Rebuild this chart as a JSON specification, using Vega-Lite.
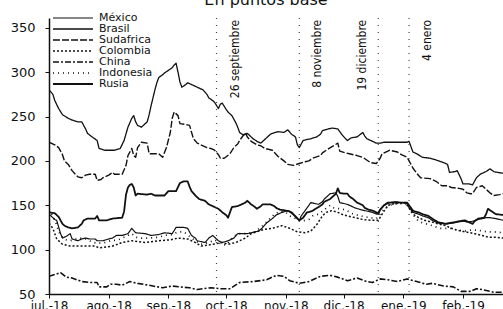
{
"$schema": "https://vega.github.io/schema/vega-lite/v6.json",
"width": 454, "height": 276,
"autosize": {"type": "none"},
"padding": {"left": 49, "top": 18, "right": 0, "bottom": 15},
"background": "white",
"title": {"text": "En puntos base", "font": "DejaVu Sans", "fontSize": 16, "fontWeight": "normal", "color": "#111", "anchor": "middle", "dx": -10},
"config": {"view": {"stroke": null}, "axis": {"grid": false, "title": null, "domainColor": "#111", "tickColor": "#111", "labelColor": "#111", "labelFont": "DejaVu Sans"}},
"datasets": {
"series": [
{"fecha":"2018-07-01","pais":"Brasil","valor":280},{"fecha":"2018-07-03","pais":"Brasil","valor":275},{"fecha":"2018-07-04","pais":"Brasil","valor":268},{"fecha":"2018-07-06","pais":"Brasil","valor":259},{"fecha":"2018-07-08","pais":"Brasil","valor":252},{"fecha":"2018-07-11","pais":"Brasil","valor":248},{"fecha":"2018-07-13","pais":"Brasil","valor":246},{"fecha":"2018-07-16","pais":"Brasil","valor":244},{"fecha":"2018-07-18","pais":"Brasil","valor":244},{"fecha":"2018-07-20","pais":"Brasil","valor":236},{"fecha":"2018-07-21","pais":"Brasil","valor":231},{"fecha":"2018-07-24","pais":"Brasil","valor":226},{"fecha":"2018-07-26","pais":"Brasil","valor":223},{"fecha":"2018-07-27","pais":"Brasil","valor":214},{"fecha":"2018-07-30","pais":"Brasil","valor":212},{"fecha":"2018-08-02","pais":"Brasil","valor":212},{"fecha":"2018-08-04","pais":"Brasil","valor":212},{"fecha":"2018-08-07","pais":"Brasil","valor":214},{"fecha":"2018-08-09","pais":"Brasil","valor":223},{"fecha":"2018-08-11","pais":"Brasil","valor":238},{"fecha":"2018-08-13","pais":"Brasil","valor":248},{"fecha":"2018-08-14","pais":"Brasil","valor":251},{"fecha":"2018-08-15","pais":"Brasil","valor":244},{"fecha":"2018-08-16","pais":"Brasil","valor":240},{"fecha":"2018-08-18","pais":"Brasil","valor":238},{"fecha":"2018-08-21","pais":"Brasil","valor":244},{"fecha":"2018-08-22","pais":"Brasil","valor":252},{"fecha":"2018-08-23","pais":"Brasil","valor":262},{"fecha":"2018-08-25","pais":"Brasil","valor":280},{"fecha":"2018-08-26","pais":"Brasil","valor":288},{"fecha":"2018-08-27","pais":"Brasil","valor":294},{"fecha":"2018-08-29","pais":"Brasil","valor":297},{"fecha":"2018-08-30","pais":"Brasil","valor":299},{"fecha":"2018-09-01","pais":"Brasil","valor":302},{"fecha":"2018-09-03","pais":"Brasil","valor":305},{"fecha":"2018-09-04","pais":"Brasil","valor":308},{"fecha":"2018-09-05","pais":"Brasil","valor":310},{"fecha":"2018-09-06","pais":"Brasil","valor":300},{"fecha":"2018-09-07","pais":"Brasil","valor":289},{"fecha":"2018-09-08","pais":"Brasil","valor":283},{"fecha":"2018-09-10","pais":"Brasil","valor":286},{"fecha":"2018-09-11","pais":"Brasil","valor":288},{"fecha":"2018-09-14","pais":"Brasil","valor":285},{"fecha":"2018-09-16","pais":"Brasil","valor":283},{"fecha":"2018-09-19","pais":"Brasil","valor":280},{"fecha":"2018-09-21","pais":"Brasil","valor":275},{"fecha":"2018-09-22","pais":"Brasil","valor":271},{"fecha":"2018-09-24","pais":"Brasil","valor":268},{"fecha":"2018-09-25","pais":"Brasil","valor":266},{"fecha":"2018-09-27","pais":"Brasil","valor":259},{"fecha":"2018-09-28","pais":"Brasil","valor":264},{"fecha":"2018-09-29","pais":"Brasil","valor":265},{"fecha":"2018-10-01","pais":"Brasil","valor":258},{"fecha":"2018-10-02","pais":"Brasil","valor":255},{"fecha":"2018-10-04","pais":"Brasil","valor":251},{"fecha":"2018-10-06","pais":"Brasil","valor":243},{"fecha":"2018-10-07","pais":"Brasil","valor":238},{"fecha":"2018-10-08","pais":"Brasil","valor":232},{"fecha":"2018-10-10","pais":"Brasil","valor":229},{"fecha":"2018-10-12","pais":"Brasil","valor":231},{"fecha":"2018-10-15","pais":"Brasil","valor":225},{"fecha":"2018-10-17","pais":"Brasil","valor":222},{"fecha":"2018-10-19","pais":"Brasil","valor":220},{"fecha":"2018-10-21","pais":"Brasil","valor":224},{"fecha":"2018-10-24","pais":"Brasil","valor":230},{"fecha":"2018-10-25","pais":"Brasil","valor":231},{"fecha":"2018-10-28","pais":"Brasil","valor":233},{"fecha":"2018-10-31","pais":"Brasil","valor":232},{"fecha":"2018-11-02","pais":"Brasil","valor":235},{"fecha":"2018-11-04","pais":"Brasil","valor":230},{"fecha":"2018-11-06","pais":"Brasil","valor":227},{"fecha":"2018-11-07","pais":"Brasil","valor":218},{"fecha":"2018-11-08","pais":"Brasil","valor":215},{"fecha":"2018-11-10","pais":"Brasil","valor":223},{"fecha":"2018-11-14","pais":"Brasil","valor":225},{"fecha":"2018-11-17","pais":"Brasil","valor":227},{"fecha":"2018-11-19","pais":"Brasil","valor":230},{"fecha":"2018-11-20","pais":"Brasil","valor":234},{"fecha":"2018-11-23","pais":"Brasil","valor":236},{"fecha":"2018-11-25","pais":"Brasil","valor":237},{"fecha":"2018-11-28","pais":"Brasil","valor":236},{"fecha":"2018-11-30","pais":"Brasil","valor":230},{"fecha":"2018-12-02","pais":"Brasil","valor":225},{"fecha":"2018-12-03","pais":"Brasil","valor":223},{"fecha":"2018-12-05","pais":"Brasil","valor":226},{"fecha":"2018-12-08","pais":"Brasil","valor":227},{"fecha":"2018-12-11","pais":"Brasil","valor":232},{"fecha":"2018-12-12","pais":"Brasil","valor":228},{"fecha":"2018-12-13","pais":"Brasil","valor":225},{"fecha":"2018-12-16","pais":"Brasil","valor":222},{"fecha":"2018-12-18","pais":"Brasil","valor":220},{"fecha":"2018-12-20","pais":"Brasil","valor":220},{"fecha":"2018-12-22","pais":"Brasil","valor":221},{"fecha":"2018-12-28","pais":"Brasil","valor":221},{"fecha":"2019-01-03","pais":"Brasil","valor":221},{"fecha":"2019-01-04","pais":"Brasil","valor":222},{"fecha":"2019-01-06","pais":"Brasil","valor":210},{"fecha":"2019-01-08","pais":"Brasil","valor":208},{"fecha":"2019-01-11","pais":"Brasil","valor":204},{"fecha":"2019-01-15","pais":"Brasil","valor":203},{"fecha":"2019-01-18","pais":"Brasil","valor":201},{"fecha":"2019-01-22","pais":"Brasil","valor":198},{"fecha":"2019-01-24","pais":"Brasil","valor":196},{"fecha":"2019-01-25","pais":"Brasil","valor":187},{"fecha":"2019-01-28","pais":"Brasil","valor":188},{"fecha":"2019-01-29","pais":"Brasil","valor":189},{"fecha":"2019-01-31","pais":"Brasil","valor":180},{"fecha":"2019-02-01","pais":"Brasil","valor":174},{"fecha":"2019-02-04","pais":"Brasil","valor":174},{"fecha":"2019-02-06","pais":"Brasil","valor":173},{"fecha":"2019-02-07","pais":"Brasil","valor":177},{"fecha":"2019-02-08","pais":"Brasil","valor":181},{"fecha":"2019-02-10","pais":"Brasil","valor":185},{"fecha":"2019-02-12","pais":"Brasil","valor":187},{"fecha":"2019-02-13","pais":"Brasil","valor":188},{"fecha":"2019-02-15","pais":"Brasil","valor":191},{"fecha":"2019-02-17","pais":"Brasil","valor":188},{"fecha":"2019-02-19","pais":"Brasil","valor":187},{"fecha":"2019-02-22","pais":"Brasil","valor":186},
{"fecha":"2018-07-01","pais":"Sudafrica","valor":221},{"fecha":"2018-07-04","pais":"Sudafrica","valor":218},{"fecha":"2018-07-06","pais":"Sudafrica","valor":215},{"fecha":"2018-07-08","pais":"Sudafrica","valor":207},{"fecha":"2018-07-09","pais":"Sudafrica","valor":200},{"fecha":"2018-07-11","pais":"Sudafrica","valor":196},{"fecha":"2018-07-13","pais":"Sudafrica","valor":189},{"fecha":"2018-07-15","pais":"Sudafrica","valor":184},{"fecha":"2018-07-16","pais":"Sudafrica","valor":182},{"fecha":"2018-07-18","pais":"Sudafrica","valor":181},{"fecha":"2018-07-20","pais":"Sudafrica","valor":184},{"fecha":"2018-07-22","pais":"Sudafrica","valor":185},{"fecha":"2018-07-25","pais":"Sudafrica","valor":185},{"fecha":"2018-07-26","pais":"Sudafrica","valor":178},{"fecha":"2018-07-28","pais":"Sudafrica","valor":179},{"fecha":"2018-07-29","pais":"Sudafrica","valor":181},{"fecha":"2018-08-01","pais":"Sudafrica","valor":184},{"fecha":"2018-08-03","pais":"Sudafrica","valor":187},{"fecha":"2018-08-04","pais":"Sudafrica","valor":185},{"fecha":"2018-08-08","pais":"Sudafrica","valor":185},{"fecha":"2018-08-10","pais":"Sudafrica","valor":195},{"fecha":"2018-08-11","pais":"Sudafrica","valor":206},{"fecha":"2018-08-13","pais":"Sudafrica","valor":214},{"fecha":"2018-08-14","pais":"Sudafrica","valor":206},{"fecha":"2018-08-15","pais":"Sudafrica","valor":204},{"fecha":"2018-08-16","pais":"Sudafrica","valor":215},{"fecha":"2018-08-18","pais":"Sudafrica","valor":221},{"fecha":"2018-08-21","pais":"Sudafrica","valor":220},{"fecha":"2018-08-22","pais":"Sudafrica","valor":208},{"fecha":"2018-08-27","pais":"Sudafrica","valor":208},{"fecha":"2018-08-29","pais":"Sudafrica","valor":204},{"fecha":"2018-08-31","pais":"Sudafrica","valor":215},{"fecha":"2018-09-02","pais":"Sudafrica","valor":232},{"fecha":"2018-09-03","pais":"Sudafrica","valor":248},{"fecha":"2018-09-04","pais":"Sudafrica","valor":255},{"fecha":"2018-09-06","pais":"Sudafrica","valor":251},{"fecha":"2018-09-07","pais":"Sudafrica","valor":242},{"fecha":"2018-09-10","pais":"Sudafrica","valor":241},{"fecha":"2018-09-12","pais":"Sudafrica","valor":240},{"fecha":"2018-09-14","pais":"Sudafrica","valor":225},{"fecha":"2018-09-16","pais":"Sudafrica","valor":220},{"fecha":"2018-09-19","pais":"Sudafrica","valor":217},{"fecha":"2018-09-21","pais":"Sudafrica","valor":215},{"fecha":"2018-09-23","pais":"Sudafrica","valor":214},{"fecha":"2018-09-25","pais":"Sudafrica","valor":212},{"fecha":"2018-09-27","pais":"Sudafrica","valor":207},{"fecha":"2018-09-28","pais":"Sudafrica","valor":203},{"fecha":"2018-09-30","pais":"Sudafrica","valor":203},{"fecha":"2018-10-03","pais":"Sudafrica","valor":208},{"fecha":"2018-10-05","pais":"Sudafrica","valor":215},{"fecha":"2018-10-07","pais":"Sudafrica","valor":219},{"fecha":"2018-10-08","pais":"Sudafrica","valor":223},{"fecha":"2018-10-11","pais":"Sudafrica","valor":232},{"fecha":"2018-10-12","pais":"Sudafrica","valor":227},{"fecha":"2018-10-14","pais":"Sudafrica","valor":222},{"fecha":"2018-10-17","pais":"Sudafrica","valor":218},{"fecha":"2018-10-19","pais":"Sudafrica","valor":217},{"fecha":"2018-10-21","pais":"Sudafrica","valor":214},{"fecha":"2018-10-25","pais":"Sudafrica","valor":212},{"fecha":"2018-10-28","pais":"Sudafrica","valor":205},{"fecha":"2018-10-31","pais":"Sudafrica","valor":200},{"fecha":"2018-11-02","pais":"Sudafrica","valor":196},{"fecha":"2018-11-05","pais":"Sudafrica","valor":195},{"fecha":"2018-11-08","pais":"Sudafrica","valor":197},{"fecha":"2018-11-11","pais":"Sudafrica","valor":199},{"fecha":"2018-11-13","pais":"Sudafrica","valor":200},{"fecha":"2018-11-15","pais":"Sudafrica","valor":203},{"fecha":"2018-11-19","pais":"Sudafrica","valor":206},{"fecha":"2018-11-20","pais":"Sudafrica","valor":209},{"fecha":"2018-11-22","pais":"Sudafrica","valor":212},{"fecha":"2018-11-25","pais":"Sudafrica","valor":216},{"fecha":"2018-11-28","pais":"Sudafrica","valor":220},{"fecha":"2018-11-29","pais":"Sudafrica","valor":211},{"fecha":"2018-12-02","pais":"Sudafrica","valor":209},{"fecha":"2018-12-04","pais":"Sudafrica","valor":208},{"fecha":"2018-12-08","pais":"Sudafrica","valor":206},{"fecha":"2018-12-11","pais":"Sudafrica","valor":204},{"fecha":"2018-12-13","pais":"Sudafrica","valor":201},{"fecha":"2018-12-15","pais":"Sudafrica","valor":198},{"fecha":"2018-12-18","pais":"Sudafrica","valor":197},{"fecha":"2018-12-20","pais":"Sudafrica","valor":203},{"fecha":"2018-12-21","pais":"Sudafrica","valor":208},{"fecha":"2018-12-24","pais":"Sudafrica","valor":211},{"fecha":"2018-12-25","pais":"Sudafrica","valor":212},{"fecha":"2018-12-29","pais":"Sudafrica","valor":210},{"fecha":"2018-12-31","pais":"Sudafrica","valor":207},{"fecha":"2019-01-03","pais":"Sudafrica","valor":204},{"fecha":"2019-01-04","pais":"Sudafrica","valor":200},{"fecha":"2019-01-06","pais":"Sudafrica","valor":192},{"fecha":"2019-01-08","pais":"Sudafrica","valor":186},{"fecha":"2019-01-10","pais":"Sudafrica","valor":181},{"fecha":"2019-01-15","pais":"Sudafrica","valor":180},{"fecha":"2019-01-18","pais":"Sudafrica","valor":177},{"fecha":"2019-01-21","pais":"Sudafrica","valor":172},{"fecha":"2019-01-24","pais":"Sudafrica","valor":172},{"fecha":"2019-01-26","pais":"Sudafrica","valor":170},{"fecha":"2019-01-30","pais":"Sudafrica","valor":169},{"fecha":"2019-02-01","pais":"Sudafrica","valor":168},{"fecha":"2019-02-03","pais":"Sudafrica","valor":164},{"fecha":"2019-02-05","pais":"Sudafrica","valor":163},{"fecha":"2019-02-06","pais":"Sudafrica","valor":163},{"fecha":"2019-02-08","pais":"Sudafrica","valor":170},{"fecha":"2019-02-11","pais":"Sudafrica","valor":172},{"fecha":"2019-02-13","pais":"Sudafrica","valor":168},{"fecha":"2019-02-15","pais":"Sudafrica","valor":164},{"fecha":"2019-02-17","pais":"Sudafrica","valor":161},{"fecha":"2019-02-20","pais":"Sudafrica","valor":162},{"fecha":"2019-02-22","pais":"Sudafrica","valor":163},
{"fecha":"2018-07-01","pais":"Rusia","valor":142},{"fecha":"2018-07-04","pais":"Rusia","valor":141},{"fecha":"2018-07-06","pais":"Rusia","valor":137},{"fecha":"2018-07-07","pais":"Rusia","valor":133},{"fecha":"2018-07-08","pais":"Rusia","valor":129},{"fecha":"2018-07-09","pais":"Rusia","valor":127},{"fecha":"2018-07-11","pais":"Rusia","valor":125},{"fecha":"2018-07-13","pais":"Rusia","valor":124},{"fecha":"2018-07-16","pais":"Rusia","valor":125},{"fecha":"2018-07-17","pais":"Rusia","valor":127},{"fecha":"2018-07-18","pais":"Rusia","valor":129},{"fecha":"2018-07-19","pais":"Rusia","valor":133},{"fecha":"2018-07-21","pais":"Rusia","valor":135},{"fecha":"2018-07-25","pais":"Rusia","valor":135},{"fecha":"2018-07-26","pais":"Rusia","valor":138},{"fecha":"2018-07-27","pais":"Rusia","valor":133},{"fecha":"2018-07-31","pais":"Rusia","valor":133},{"fecha":"2018-08-03","pais":"Rusia","valor":135},{"fecha":"2018-08-08","pais":"Rusia","valor":136},{"fecha":"2018-08-09","pais":"Rusia","valor":143},{"fecha":"2018-08-10","pais":"Rusia","valor":162},{"fecha":"2018-08-11","pais":"Rusia","valor":170},{"fecha":"2018-08-12","pais":"Rusia","valor":173},{"fecha":"2018-08-13","pais":"Rusia","valor":174},{"fecha":"2018-08-14","pais":"Rusia","valor":170},{"fecha":"2018-08-15","pais":"Rusia","valor":161},{"fecha":"2018-08-16","pais":"Rusia","valor":163},{"fecha":"2018-08-21","pais":"Rusia","valor":162},{"fecha":"2018-08-23","pais":"Rusia","valor":163},{"fecha":"2018-08-25","pais":"Rusia","valor":161},{"fecha":"2018-08-30","pais":"Rusia","valor":161},{"fecha":"2018-09-01","pais":"Rusia","valor":166},{"fecha":"2018-09-05","pais":"Rusia","valor":166},{"fecha":"2018-09-07","pais":"Rusia","valor":175},{"fecha":"2018-09-09","pais":"Rusia","valor":177},{"fecha":"2018-09-11","pais":"Rusia","valor":177},{"fecha":"2018-09-12","pais":"Rusia","valor":171},{"fecha":"2018-09-13","pais":"Rusia","valor":166},{"fecha":"2018-09-15","pais":"Rusia","valor":161},{"fecha":"2018-09-17","pais":"Rusia","valor":157},{"fecha":"2018-09-20","pais":"Rusia","valor":155},{"fecha":"2018-09-22","pais":"Rusia","valor":151},{"fecha":"2018-09-24","pais":"Rusia","valor":149},{"fecha":"2018-09-27","pais":"Rusia","valor":146},{"fecha":"2018-09-29","pais":"Rusia","valor":142},{"fecha":"2018-10-01","pais":"Rusia","valor":139},{"fecha":"2018-10-02","pais":"Rusia","valor":136},{"fecha":"2018-10-03","pais":"Rusia","valor":142},{"fecha":"2018-10-04","pais":"Rusia","valor":148},{"fecha":"2018-10-07","pais":"Rusia","valor":149},{"fecha":"2018-10-09","pais":"Rusia","valor":151},{"fecha":"2018-10-11","pais":"Rusia","valor":153},{"fecha":"2018-10-12","pais":"Rusia","valor":155},{"fecha":"2018-10-14","pais":"Rusia","valor":151},{"fecha":"2018-10-16","pais":"Rusia","valor":148},{"fecha":"2018-10-17","pais":"Rusia","valor":146},{"fecha":"2018-10-19","pais":"Rusia","valor":149},{"fecha":"2018-10-20","pais":"Rusia","valor":151},{"fecha":"2018-10-24","pais":"Rusia","valor":151},{"fecha":"2018-10-26","pais":"Rusia","valor":149},{"fecha":"2018-10-27","pais":"Rusia","valor":147},{"fecha":"2018-10-29","pais":"Rusia","valor":145},{"fecha":"2018-11-01","pais":"Rusia","valor":144},{"fecha":"2018-11-03","pais":"Rusia","valor":143},{"fecha":"2018-11-04","pais":"Rusia","valor":142},{"fecha":"2018-11-06","pais":"Rusia","valor":137},{"fecha":"2018-11-08","pais":"Rusia","valor":133},{"fecha":"2018-11-10","pais":"Rusia","valor":136},{"fecha":"2018-11-12","pais":"Rusia","valor":142},{"fecha":"2018-11-14","pais":"Rusia","valor":143},{"fecha":"2018-11-15","pais":"Rusia","valor":144},{"fecha":"2018-11-18","pais":"Rusia","valor":148},{"fecha":"2018-11-20","pais":"Rusia","valor":151},{"fecha":"2018-11-21","pais":"Rusia","valor":154},{"fecha":"2018-11-22","pais":"Rusia","valor":155},{"fecha":"2018-11-24","pais":"Rusia","valor":157},{"fecha":"2018-11-25","pais":"Rusia","valor":159},{"fecha":"2018-11-27","pais":"Rusia","valor":163},{"fecha":"2018-11-28","pais":"Rusia","valor":169},{"fecha":"2018-11-29","pais":"Rusia","valor":164},{"fecha":"2018-12-01","pais":"Rusia","valor":163},{"fecha":"2018-12-03","pais":"Rusia","valor":163},{"fecha":"2018-12-04","pais":"Rusia","valor":160},{"fecha":"2018-12-06","pais":"Rusia","valor":157},{"fecha":"2018-12-07","pais":"Rusia","valor":155},{"fecha":"2018-12-08","pais":"Rusia","valor":153},{"fecha":"2018-12-11","pais":"Rusia","valor":150},{"fecha":"2018-12-12","pais":"Rusia","valor":147},{"fecha":"2018-12-14","pais":"Rusia","valor":145},{"fecha":"2018-12-16","pais":"Rusia","valor":144},{"fecha":"2018-12-18","pais":"Rusia","valor":142},{"fecha":"2018-12-19","pais":"Rusia","valor":140},{"fecha":"2018-12-20","pais":"Rusia","valor":145},{"fecha":"2018-12-22","pais":"Rusia","valor":150},{"fecha":"2018-12-24","pais":"Rusia","valor":153},{"fecha":"2018-12-28","pais":"Rusia","valor":153},{"fecha":"2018-12-31","pais":"Rusia","valor":153},{"fecha":"2019-01-03","pais":"Rusia","valor":153},{"fecha":"2019-01-04","pais":"Rusia","valor":150},{"fecha":"2019-01-06","pais":"Rusia","valor":144},{"fecha":"2019-01-07","pais":"Rusia","valor":143},{"fecha":"2019-01-09","pais":"Rusia","valor":142},{"fecha":"2019-01-11","pais":"Rusia","valor":140},{"fecha":"2019-01-14","pais":"Rusia","valor":138},{"fecha":"2019-01-16","pais":"Rusia","valor":135},{"fecha":"2019-01-19","pais":"Rusia","valor":131},{"fecha":"2019-01-23","pais":"Rusia","valor":129},{"fecha":"2019-01-25","pais":"Rusia","valor":130},{"fecha":"2019-01-28","pais":"Rusia","valor":131},{"fecha":"2019-01-30","pais":"Rusia","valor":132},{"fecha":"2019-02-02","pais":"Rusia","valor":133},{"fecha":"2019-02-04","pais":"Rusia","valor":131},{"fecha":"2019-02-06","pais":"Rusia","valor":129},{"fecha":"2019-02-07","pais":"Rusia","valor":132},{"fecha":"2019-02-09","pais":"Rusia","valor":135},{"fecha":"2019-02-12","pais":"Rusia","valor":136},{"fecha":"2019-02-13","pais":"Rusia","valor":140},{"fecha":"2019-02-14","pais":"Rusia","valor":146},{"fecha":"2019-02-16","pais":"Rusia","valor":143},{"fecha":"2019-02-18","pais":"Rusia","valor":140},{"fecha":"2019-02-22","pais":"Rusia","valor":139},
{"fecha":"2018-07-01","pais":"México","valor":140},{"fecha":"2018-07-03","pais":"México","valor":136},{"fecha":"2018-07-04","pais":"México","valor":134},{"fecha":"2018-07-05","pais":"México","valor":133},{"fecha":"2018-07-07","pais":"México","valor":118},{"fecha":"2018-07-08","pais":"México","valor":113},{"fecha":"2018-07-10","pais":"México","valor":115},{"fecha":"2018-07-12","pais":"México","valor":118},{"fecha":"2018-07-13","pais":"México","valor":112},{"fecha":"2018-07-16","pais":"México","valor":110},{"fecha":"2018-07-18","pais":"México","valor":112},{"fecha":"2018-07-20","pais":"México","valor":113},{"fecha":"2018-07-22","pais":"México","valor":112},{"fecha":"2018-07-25","pais":"México","valor":112},{"fecha":"2018-07-26","pais":"México","valor":110},{"fecha":"2018-07-29","pais":"México","valor":110},{"fecha":"2018-08-01","pais":"México","valor":112},{"fecha":"2018-08-03","pais":"México","valor":113},{"fecha":"2018-08-05","pais":"México","valor":116},{"fecha":"2018-08-08","pais":"México","valor":116},{"fecha":"2018-08-11","pais":"México","valor":118},{"fecha":"2018-08-13","pais":"México","valor":124},{"fecha":"2018-08-15","pais":"México","valor":119},{"fecha":"2018-08-20","pais":"México","valor":118},{"fecha":"2018-08-23","pais":"México","valor":116},{"fecha":"2018-08-27","pais":"México","valor":117},{"fecha":"2018-08-30","pais":"México","valor":119},{"fecha":"2018-09-03","pais":"México","valor":118},{"fecha":"2018-09-05","pais":"México","valor":125},{"fecha":"2018-09-09","pais":"México","valor":125},{"fecha":"2018-09-11","pais":"México","valor":124},{"fecha":"2018-09-13","pais":"México","valor":116},{"fecha":"2018-09-15","pais":"México","valor":113},{"fecha":"2018-09-16","pais":"México","valor":110},{"fecha":"2018-09-20","pais":"México","valor":108},{"fecha":"2018-09-22","pais":"México","valor":113},{"fecha":"2018-09-24","pais":"México","valor":116},{"fecha":"2018-09-27","pais":"México","valor":110},{"fecha":"2018-09-29","pais":"México","valor":108},{"fecha":"2018-10-02","pais":"México","valor":110},{"fecha":"2018-10-05","pais":"México","valor":113},{"fecha":"2018-10-07","pais":"México","valor":118},{"fecha":"2018-10-12","pais":"México","valor":118},{"fecha":"2018-10-16","pais":"México","valor":120},{"fecha":"2018-10-18","pais":"México","valor":121},{"fecha":"2018-10-20","pais":"México","valor":125},{"fecha":"2018-10-22","pais":"México","valor":130},{"fecha":"2018-10-25","pais":"México","valor":135},{"fecha":"2018-10-27","pais":"México","valor":139},{"fecha":"2018-10-30","pais":"México","valor":142},{"fecha":"2018-11-02","pais":"México","valor":144},{"fecha":"2018-11-04","pais":"México","valor":141},{"fecha":"2018-11-06","pais":"México","valor":138},{"fecha":"2018-11-08","pais":"México","valor":133},{"fecha":"2018-11-09","pais":"México","valor":138},{"fecha":"2018-11-11","pais":"México","valor":144},{"fecha":"2018-11-14","pais":"México","valor":153},{"fecha":"2018-11-16","pais":"México","valor":152},{"fecha":"2018-11-18","pais":"México","valor":151},{"fecha":"2018-11-20","pais":"México","valor":154},{"fecha":"2018-11-21","pais":"México","valor":157},{"fecha":"2018-11-24","pais":"México","valor":163},{"fecha":"2018-11-27","pais":"México","valor":164},{"fecha":"2018-11-28","pais":"México","valor":160},{"fecha":"2018-11-29","pais":"México","valor":153},{"fecha":"2018-12-03","pais":"México","valor":151},{"fecha":"2018-12-05","pais":"México","valor":149},{"fecha":"2018-12-07","pais":"México","valor":147},{"fecha":"2018-12-10","pais":"México","valor":145},{"fecha":"2018-12-12","pais":"México","valor":144},{"fecha":"2018-12-16","pais":"México","valor":142},{"fecha":"2018-12-18","pais":"México","valor":140},{"fecha":"2018-12-20","pais":"México","valor":145},{"fecha":"2018-12-22","pais":"México","valor":150},{"fecha":"2018-12-25","pais":"México","valor":153},{"fecha":"2018-12-28","pais":"México","valor":154},{"fecha":"2018-12-31","pais":"México","valor":153},{"fecha":"2019-01-03","pais":"México","valor":152},{"fecha":"2019-01-04","pais":"México","valor":148},{"fecha":"2019-01-06","pais":"México","valor":142},{"fecha":"2019-01-09","pais":"México","valor":140},{"fecha":"2019-01-11","pais":"México","valor":138},{"fecha":"2019-01-14","pais":"México","valor":136},{"fecha":"2019-01-16","pais":"México","valor":133},{"fecha":"2019-01-19","pais":"México","valor":130},{"fecha":"2019-01-22","pais":"México","valor":129},{"fecha":"2019-01-24","pais":"México","valor":129},{"fecha":"2019-01-27","pais":"México","valor":130},{"fecha":"2019-01-29","pais":"México","valor":131},{"fecha":"2019-02-01","pais":"México","valor":132},{"fecha":"2019-02-04","pais":"México","valor":131},{"fecha":"2019-02-06","pais":"México","valor":132},{"fecha":"2019-02-09","pais":"México","valor":134},{"fecha":"2019-02-11","pais":"México","valor":135},{"fecha":"2019-02-13","pais":"México","valor":136},{"fecha":"2019-02-15","pais":"México","valor":136},{"fecha":"2019-02-18","pais":"México","valor":135},{"fecha":"2019-02-20","pais":"México","valor":134},{"fecha":"2019-02-22","pais":"México","valor":133},
{"fecha":"2018-07-01","pais":"Colombia","valor":130},{"fecha":"2018-07-03","pais":"Colombia","valor":124},{"fecha":"2018-07-05","pais":"Colombia","valor":112},{"fecha":"2018-07-08","pais":"Colombia","valor":106},{"fecha":"2018-07-12","pais":"Colombia","valor":104},{"fecha":"2018-07-18","pais":"Colombia","valor":104},{"fecha":"2018-07-25","pais":"Colombia","valor":104},{"fecha":"2018-07-27","pais":"Colombia","valor":102},{"fecha":"2018-08-03","pais":"Colombia","valor":104},{"fecha":"2018-08-08","pais":"Colombia","valor":108},{"fecha":"2018-08-13","pais":"Colombia","valor":110},{"fecha":"2018-08-20","pais":"Colombia","valor":108},{"fecha":"2018-08-27","pais":"Colombia","valor":110},{"fecha":"2018-09-02","pais":"Colombia","valor":111},{"fecha":"2018-09-06","pais":"Colombia","valor":113},{"fecha":"2018-09-11","pais":"Colombia","valor":112},{"fecha":"2018-09-15","pais":"Colombia","valor":108},{"fecha":"2018-09-18","pais":"Colombia","valor":104},{"fecha":"2018-09-24","pais":"Colombia","valor":106},{"fecha":"2018-09-29","pais":"Colombia","valor":108},{"fecha":"2018-10-02","pais":"Colombia","valor":106},{"fecha":"2018-10-06","pais":"Colombia","valor":108},{"fecha":"2018-10-11","pais":"Colombia","valor":113},{"fecha":"2018-10-14","pais":"Colombia","valor":118},{"fecha":"2018-10-18","pais":"Colombia","valor":121},{"fecha":"2018-10-21","pais":"Colombia","valor":123},{"fecha":"2018-10-25","pais":"Colombia","valor":124},{"fecha":"2018-10-30","pais":"Colombia","valor":127},{"fecha":"2018-11-03","pais":"Colombia","valor":124},{"fecha":"2018-11-07","pais":"Colombia","valor":120},{"fecha":"2018-11-11","pais":"Colombia","valor":119},{"fecha":"2018-11-14","pais":"Colombia","valor":121},{"fecha":"2018-11-17","pais":"Colombia","valor":128},{"fecha":"2018-11-20","pais":"Colombia","valor":138},{"fecha":"2018-11-22","pais":"Colombia","valor":142},{"fecha":"2018-11-25","pais":"Colombia","valor":144},{"fecha":"2018-11-28","pais":"Colombia","valor":142},{"fecha":"2018-12-01","pais":"Colombia","valor":139},{"fecha":"2018-12-03","pais":"Colombia","valor":138},{"fecha":"2018-12-07","pais":"Colombia","valor":136},{"fecha":"2018-12-11","pais":"Colombia","valor":134},{"fecha":"2018-12-15","pais":"Colombia","valor":133},{"fecha":"2018-12-19","pais":"Colombia","valor":133},{"fecha":"2018-12-21","pais":"Colombia","valor":140},{"fecha":"2018-12-24","pais":"Colombia","valor":150},{"fecha":"2018-12-28","pais":"Colombia","valor":152},{"fecha":"2019-01-02","pais":"Colombia","valor":153},{"fecha":"2019-01-04","pais":"Colombia","valor":147},{"fecha":"2019-01-06","pais":"Colombia","valor":140},{"fecha":"2019-01-09","pais":"Colombia","valor":136},{"fecha":"2019-01-12","pais":"Colombia","valor":133},{"fecha":"2019-01-16","pais":"Colombia","valor":131},{"fecha":"2019-01-19","pais":"Colombia","valor":129},{"fecha":"2019-01-23","pais":"Colombia","valor":127},{"fecha":"2019-01-26","pais":"Colombia","valor":124},{"fecha":"2019-01-29","pais":"Colombia","valor":122},{"fecha":"2019-02-02","pais":"Colombia","valor":120},{"fecha":"2019-02-05","pais":"Colombia","valor":119},{"fecha":"2019-02-07","pais":"Colombia","valor":118},{"fecha":"2019-02-11","pais":"Colombia","valor":116},{"fecha":"2019-02-14","pais":"Colombia","valor":114},{"fecha":"2019-02-18","pais":"Colombia","valor":114},{"fecha":"2019-02-22","pais":"Colombia","valor":113},
{"fecha":"2018-07-01","pais":"Indonesia","valor":145},{"fecha":"2018-07-03","pais":"Indonesia","valor":138},{"fecha":"2018-07-05","pais":"Indonesia","valor":128},{"fecha":"2018-07-06","pais":"Indonesia","valor":120},{"fecha":"2018-07-08","pais":"Indonesia","valor":114},{"fecha":"2018-07-10","pais":"Indonesia","valor":111},{"fecha":"2018-07-12","pais":"Indonesia","valor":110},{"fecha":"2018-07-15","pais":"Indonesia","valor":112},{"fecha":"2018-07-17","pais":"Indonesia","valor":113},{"fecha":"2018-07-20","pais":"Indonesia","valor":112},{"fecha":"2018-07-23","pais":"Indonesia","valor":109},{"fecha":"2018-07-26","pais":"Indonesia","valor":107},{"fecha":"2018-07-30","pais":"Indonesia","valor":108},{"fecha":"2018-08-02","pais":"Indonesia","valor":110},{"fecha":"2018-08-06","pais":"Indonesia","valor":111},{"fecha":"2018-08-09","pais":"Indonesia","valor":114},{"fecha":"2018-08-13","pais":"Indonesia","valor":118},{"fecha":"2018-08-15","pais":"Indonesia","valor":114},{"fecha":"2018-08-18","pais":"Indonesia","valor":113},{"fecha":"2018-08-22","pais":"Indonesia","valor":113},{"fecha":"2018-08-27","pais":"Indonesia","valor":114},{"fecha":"2018-08-30","pais":"Indonesia","valor":116},{"fecha":"2018-09-03","pais":"Indonesia","valor":117},{"fecha":"2018-09-06","pais":"Indonesia","valor":120},{"fecha":"2018-09-09","pais":"Indonesia","valor":120},{"fecha":"2018-09-12","pais":"Indonesia","valor":115},{"fecha":"2018-09-15","pais":"Indonesia","valor":110},{"fecha":"2018-09-18","pais":"Indonesia","valor":106},{"fecha":"2018-09-22","pais":"Indonesia","valor":108},{"fecha":"2018-09-25","pais":"Indonesia","valor":111},{"fecha":"2018-09-28","pais":"Indonesia","valor":107},{"fecha":"2018-10-01","pais":"Indonesia","valor":105},{"fecha":"2018-10-04","pais":"Indonesia","valor":113},{"fecha":"2018-10-07","pais":"Indonesia","valor":118},{"fecha":"2018-10-12","pais":"Indonesia","valor":118},{"fecha":"2018-10-16","pais":"Indonesia","valor":120},{"fecha":"2018-10-20","pais":"Indonesia","valor":127},{"fecha":"2018-10-23","pais":"Indonesia","valor":133},{"fecha":"2018-10-26","pais":"Indonesia","valor":140},{"fecha":"2018-10-29","pais":"Indonesia","valor":143},{"fecha":"2018-11-01","pais":"Indonesia","valor":142},{"fecha":"2018-11-03","pais":"Indonesia","valor":138},{"fecha":"2018-11-06","pais":"Indonesia","valor":135},{"fecha":"2018-11-09","pais":"Indonesia","valor":132},{"fecha":"2018-11-13","pais":"Indonesia","valor":134},{"fecha":"2018-11-15","pais":"Indonesia","valor":138},{"fecha":"2018-11-18","pais":"Indonesia","valor":140},{"fecha":"2018-11-21","pais":"Indonesia","valor":145},{"fecha":"2018-11-24","pais":"Indonesia","valor":150},{"fecha":"2018-11-26","pais":"Indonesia","valor":147},{"fecha":"2018-11-29","pais":"Indonesia","valor":146},{"fecha":"2018-12-02","pais":"Indonesia","valor":145},{"fecha":"2018-12-05","pais":"Indonesia","valor":141},{"fecha":"2018-12-08","pais":"Indonesia","valor":139},{"fecha":"2018-12-12","pais":"Indonesia","valor":137},{"fecha":"2018-12-15","pais":"Indonesia","valor":136},{"fecha":"2018-12-18","pais":"Indonesia","valor":135},{"fecha":"2018-12-20","pais":"Indonesia","valor":140},{"fecha":"2018-12-22","pais":"Indonesia","valor":146},{"fecha":"2018-12-26","pais":"Indonesia","valor":151},{"fecha":"2018-12-30","pais":"Indonesia","valor":152},{"fecha":"2019-01-03","pais":"Indonesia","valor":151},{"fecha":"2019-01-06","pais":"Indonesia","valor":140},{"fecha":"2019-01-08","pais":"Indonesia","valor":134},{"fecha":"2019-01-10","pais":"Indonesia","valor":131},{"fecha":"2019-01-13","pais":"Indonesia","valor":129},{"fecha":"2019-01-16","pais":"Indonesia","valor":127},{"fecha":"2019-01-20","pais":"Indonesia","valor":124},{"fecha":"2019-01-26","pais":"Indonesia","valor":124},{"fecha":"2019-01-29","pais":"Indonesia","valor":122},{"fecha":"2019-02-02","pais":"Indonesia","valor":121},{"fecha":"2019-02-05","pais":"Indonesia","valor":122},{"fecha":"2019-02-08","pais":"Indonesia","valor":122},{"fecha":"2019-02-11","pais":"Indonesia","valor":121},{"fecha":"2019-02-14","pais":"Indonesia","valor":120},{"fecha":"2019-02-17","pais":"Indonesia","valor":120},{"fecha":"2019-02-22","pais":"Indonesia","valor":119},
{"fecha":"2018-07-01","pais":"China","valor":70},{"fecha":"2018-07-07","pais":"China","valor":74},{"fecha":"2018-07-10","pais":"China","valor":69},{"fecha":"2018-07-13","pais":"China","valor":68},{"fecha":"2018-07-18","pais":"China","valor":64},{"fecha":"2018-07-22","pais":"China","valor":63},{"fecha":"2018-07-26","pais":"China","valor":63},{"fecha":"2018-07-27","pais":"China","valor":58},{"fecha":"2018-07-31","pais":"China","valor":58},{"fecha":"2018-08-02","pais":"China","valor":61},{"fecha":"2018-08-05","pais":"China","valor":61},{"fecha":"2018-08-08","pais":"China","valor":60},{"fecha":"2018-08-12","pais":"China","valor":64},{"fecha":"2018-08-16","pais":"China","valor":62},{"fecha":"2018-08-19","pais":"China","valor":61},{"fecha":"2018-08-24","pais":"China","valor":59},{"fecha":"2018-08-29","pais":"China","valor":57},{"fecha":"2018-09-03","pais":"China","valor":59},{"fecha":"2018-09-07","pais":"China","valor":58},{"fecha":"2018-09-12","pais":"China","valor":57},{"fecha":"2018-09-16","pais":"China","valor":55},{"fecha":"2018-09-19","pais":"China","valor":56},{"fecha":"2018-09-23","pais":"China","valor":57},{"fecha":"2018-09-28","pais":"China","valor":56},{"fecha":"2018-10-03","pais":"China","valor":56},{"fecha":"2018-10-08","pais":"China","valor":63},{"fecha":"2018-10-15","pais":"China","valor":64},{"fecha":"2018-10-22","pais":"China","valor":66},{"fecha":"2018-10-27","pais":"China","valor":71},{"fecha":"2018-10-31","pais":"China","valor":70},{"fecha":"2018-11-03","pais":"China","valor":65},{"fecha":"2018-11-08","pais":"China","valor":62},{"fecha":"2018-11-13","pais":"China","valor":64},{"fecha":"2018-11-19","pais":"China","valor":70},{"fecha":"2018-11-24","pais":"China","valor":71},{"fecha":"2018-11-28","pais":"China","valor":69},{"fecha":"2018-12-03","pais":"China","valor":65},{"fecha":"2018-12-08","pais":"China","valor":68},{"fecha":"2018-12-13","pais":"China","valor":64},{"fecha":"2018-12-16","pais":"China","valor":63},{"fecha":"2018-12-20","pais":"China","valor":67},{"fecha":"2018-12-24","pais":"China","valor":66},{"fecha":"2018-12-29","pais":"China","valor":64},{"fecha":"2019-01-03","pais":"China","valor":67},{"fecha":"2019-01-08","pais":"China","valor":64},{"fecha":"2019-01-13","pais":"China","valor":61},{"fecha":"2019-01-16","pais":"China","valor":62},{"fecha":"2019-01-22","pais":"China","valor":59},{"fecha":"2019-01-27","pais":"China","valor":58},{"fecha":"2019-01-31","pais":"China","valor":53},{"fecha":"2019-02-05","pais":"China","valor":53},{"fecha":"2019-02-08","pais":"China","valor":56},{"fecha":"2019-02-11","pais":"China","valor":55},{"fecha":"2019-02-17","pais":"China","valor":52},{"fecha":"2019-02-22","pais":"China","valor":52}
],
"hitos": [
{"fecha":"2018-09-26","etiqueta":"26 septiembre"},
{"fecha":"2018-11-08","etiqueta":"8 noviembre"},
{"fecha":"2018-12-19","etiqueta":"19 diciembre"},
{"fecha":"2019-01-04","etiqueta":"4 enero"}
]
},
"layer": [
{
"data": {"name": "series"},
"mark": {"type": "line", "color": "#111", "clip": true, "strokeJoin": "round"},
"encoding": {
"x": {"field": "fecha", "type": "temporal",
 "scale": {"type": "utc", "domain": [{"year":2018,"month":7,"date":1,"utc":true},{"year":2019,"month":2,"date":21,"hours":19,"utc":true}]},
 "axis": {"values": [{"year":2018,"month":7,"date":1,"utc":true},{"year":2018,"month":8,"date":1,"utc":true},{"year":2018,"month":9,"date":1,"utc":true},{"year":2018,"month":10,"date":1,"utc":true},{"year":2018,"month":11,"date":1,"utc":true},{"year":2018,"month":12,"date":1,"utc":true},{"year":2019,"month":1,"date":1,"utc":true},{"year":2019,"month":2,"date":1,"utc":true}],
  "labelExpr": "['ene','feb','mar','abr','may','jun','jul','ago','sep','oct','nov','dic'][utcmonth(datum.value)] + '.-' + utcFormat(datum.value, '%y')",
  "tickSize": 4, "labelPadding": 2, "labelFontSize": 12, "domainWidth": 1.5, "labelFlush": false, "labelOverlap": false}},
"y": {"field": "valor", "type": "quantitative",
 "scale": {"domain": [50, 361], "nice": false, "zero": false},
 "axis": {"values": [50,100,150,200,250,300,350], "tickSize": 4, "labelPadding": 10, "labelFontSize": 13, "domainWidth": 1.5}},
"strokeDash": {"field": "pais", "type": "nominal",
 "scale": {"domain": ["México","Brasil","Sudafrica","Colombia","China","Indonesia","Rusia"], "range": [[1,0],[1,0],[7,2],[2,2],[6,2,2,2],[1,4],[1,0]]},
 "legend": {"orient": "none", "legendX": 18, "legendY": -6, "title": null, "symbolType": "M-4,0H4", "symbolSize": 100, "symbolStrokeColor": "#111", "symbolStrokeWidth": 1.4, "labelFont": "DejaVu Sans", "labelFontSize": 11, "labelColor": "#111", "labelOffset": 20, "rowPadding": 0, "padding": 0}},
"strokeWidth": {"field": "pais", "type": "nominal",
 "scale": {"domain": ["México","Brasil","Sudafrica","Colombia","China","Indonesia","Rusia"], "range": [1.2,1.8,1.4,1.3,1.3,1.3,1.6]},
 "legend": null}
}
},
{"mark": {"type": "rule", "color": "#111", "strokeWidth": 1.5}, "encoding": {"y": {"datum": 100}}},
{"data": {"name": "hitos"}, "mark": {"type": "rule", "color": "#444", "strokeDash": [1, 6], "strokeWidth": 1.2}, "encoding": {"x": {"field": "fecha", "type": "temporal"}}},
{"data": {"name": "hitos"}, "transform": [{"filter": "datum.etiqueta != '19 diciembre'"}],
 "mark": {"type": "text", "angle": 270, "align": "right", "baseline": "top", "dy": 13, "font": "DejaVu Sans Condensed, Liberation Sans Narrow, Roboto Condensed, DejaVu Sans, sans-serif", "fontSize": 12, "color": "#111"},
 "encoding": {"x": {"field": "fecha", "type": "temporal"}, "y": {"datum": 359}, "text": {"field": "etiqueta"}}},
{"data": {"name": "hitos"}, "transform": [{"filter": "datum.etiqueta == '19 diciembre'"}],
 "mark": {"type": "text", "angle": 270, "align": "right", "baseline": "bottom", "dy": -9, "font": "DejaVu Sans Condensed, Liberation Sans Narrow, Roboto Condensed, DejaVu Sans, sans-serif", "fontSize": 12, "color": "#111"},
 "encoding": {"x": {"field": "fecha", "type": "temporal"}, "y": {"datum": 359}, "text": {"field": "etiqueta"}}}
]
}
